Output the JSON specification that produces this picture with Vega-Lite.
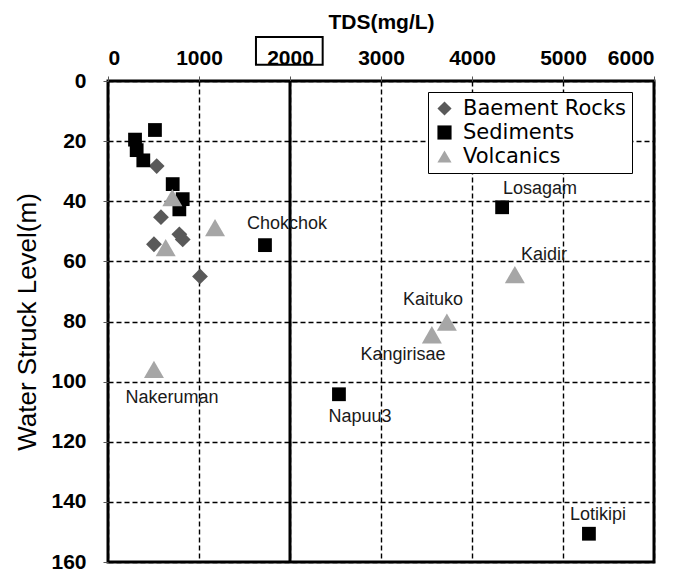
{
  "$schema": "https://vega.github.io/schema/vega-lite/v6.json",
  "width": 546,
  "height": 481,
  "autosize": {"type": "none"},
  "padding": {"left": 108, "top": 81, "right": 26, "bottom": 10},
  "background": "white",
  "config": {
    "view": {"stroke": "black", "strokeWidth": 3},
    "axis": {
      "grid": true,
      "gridColor": "black",
      "gridDash": [5, 3],
      "gridWidth": 1.4,
      "gridOpacity": 1,
      "domain": false,
      "tickColor": "#555",
      "tickSize": 5,
      "labelFont": "Liberation Sans",
      "labelFontWeight": "bold",
      "labelColor": "black",
      "titleFont": "Liberation Sans",
      "titleColor": "black"
    },
    "legend": {
      "title": null,
      "orient": "none",
      "legendX": 320,
      "legendY": 11,
      "strokeColor": "black",
      "fillColor": "white",
      "padding": 6,
      "labelFont": "DejaVu Sans",
      "labelFontSize": 21,
      "labelColor": "black",
      "labelLimit": 400,
      "symbolSize": 200,
      "rowPadding": 2,
      "labelOffset": 8,
      "symbolStrokeWidth": 0
    }
  },
  "datasets": {
    "points": [
      {"group": "Baement Rocks", "tds": 535, "depth": 28.3},
      {"group": "Baement Rocks", "tds": 582, "depth": 45.3},
      {"group": "Baement Rocks", "tds": 784, "depth": 51},
      {"group": "Baement Rocks", "tds": 821, "depth": 52.7},
      {"group": "Baement Rocks", "tds": 505, "depth": 54.3},
      {"group": "Baement Rocks", "tds": 1011, "depth": 65},
      {"group": "Sediments", "tds": 516, "depth": 16.3},
      {"group": "Sediments", "tds": 297, "depth": 19.5},
      {"group": "Sediments", "tds": 315, "depth": 23},
      {"group": "Sediments", "tds": 388, "depth": 26.4},
      {"group": "Sediments", "tds": 711, "depth": 34.3},
      {"group": "Sediments", "tds": 821, "depth": 39.3},
      {"group": "Sediments", "tds": 784, "depth": 42.7},
      {"group": "Sediments", "tds": 1725, "depth": 54.6},
      {"group": "Sediments", "tds": 4331, "depth": 42},
      {"group": "Sediments", "tds": 2538, "depth": 104.2},
      {"group": "Sediments", "tds": 5285, "depth": 150.6},
      {"group": "Volcanics", "tds": 707, "depth": 38.8},
      {"group": "Volcanics", "tds": 1176, "depth": 48.8},
      {"group": "Volcanics", "tds": 634, "depth": 55.4},
      {"group": "Volcanics", "tds": 505, "depth": 95.9},
      {"group": "Volcanics", "tds": 3559, "depth": 84.4},
      {"group": "Volcanics", "tds": 3724, "depth": 80.2},
      {"group": "Volcanics", "tds": 4471, "depth": 64.4}
    ],
    "labels": [
      {"label": "Chokchok", "lx": 1967, "ly": 47.7},
      {"label": "Losagam", "lx": 4747, "ly": 36},
      {"label": "Kaidir", "lx": 4791, "ly": 58},
      {"label": "Kaituko", "lx": 3571, "ly": 72.7},
      {"label": "Kangirisae", "lx": 3242, "ly": 91.3},
      {"label": "Napuu3", "lx": 2769, "ly": 111.7},
      {"label": "Nakeruman", "lx": 703, "ly": 105.3},
      {"label": "Lotikipi", "lx": 5385, "ly": 144.3}
    ],
    "limit": [
      {"name": "TDS limit", "tds": 2000}
    ]
  },
  "layer": [
    {
      "data": {"name": "limit"},
      "mark": {"type": "rule", "color": "black", "strokeWidth": 3},
      "encoding": {"x": {"field": "tds", "type": "quantitative"}}
    },
    {
      "data": {"name": "points"},
      "transform": [{"filter": "datum.group === 'Baement Rocks'"}],
      "mark": {"type": "point", "filled": true, "opacity": 1, "size": 250},
      "encoding": {
        "x": {
          "field": "tds",
          "type": "quantitative",
          "scale": {"domain": [0, 6000], "nice": false},
          "axis": {
            "orient": "top",
            "values": [0, 1000, 2000, 3000, 4000, 5000, 6000],
            "format": "d",
            "title": "TDS(mg/L)",
            "titleFontSize": 21,
            "titleFontWeight": "bold",
            "titlePadding": 15,
            "labelFontSize": 21,
            "labelPadding": 8
          }
        },
        "y": {
          "field": "depth",
          "type": "quantitative",
          "scale": {"domain": [0, 160], "reverse": true, "nice": false},
          "axis": {
            "values": [0, 20, 40, 60, 80, 100, 120, 140, 160],
            "title": "Water Struck Level(m)",
            "titleFontSize": 26,
            "titleFontWeight": "normal",
            "titlePadding": 10,
            "labelFontSize": 21,
            "labelPadding": 17
          }
        },
        "shape": {"field": "group", "type": "nominal", "scale": {"domain": ["Baement Rocks", "Sediments", "Volcanics"], "range": ["diamond", "square", "triangle-up"]}},
        "color": {"field": "group", "type": "nominal", "scale": {"domain": ["Baement Rocks", "Sediments", "Volcanics"], "range": ["#595959", "#000000", "#a6a6a6"]}}
      }
    },
    {
      "data": {"name": "points"},
      "transform": [{"filter": "datum.group === 'Sediments'"}],
      "mark": {"type": "point", "filled": true, "opacity": 1, "size": 190},
      "encoding": {
        "x": {"field": "tds", "type": "quantitative"},
        "y": {"field": "depth", "type": "quantitative"},
        "shape": {"field": "group", "type": "nominal"},
        "color": {"field": "group", "type": "nominal"}
      }
    },
    {
      "data": {"name": "points"},
      "transform": [{"filter": "datum.group === 'Volcanics'"}],
      "mark": {"type": "point", "filled": true, "opacity": 1, "size": 400},
      "encoding": {
        "x": {"field": "tds", "type": "quantitative"},
        "y": {"field": "depth", "type": "quantitative"},
        "shape": {"field": "group", "type": "nominal"},
        "color": {"field": "group", "type": "nominal"}
      }
    },
    {
      "data": {"name": "labels"},
      "mark": {"type": "text", "font": "Liberation Sans", "fontSize": 18, "color": "#1a1a1a", "baseline": "middle"},
      "encoding": {
        "x": {"field": "lx", "type": "quantitative"},
        "y": {"field": "ly", "type": "quantitative"},
        "text": {"field": "label", "type": "nominal"}
      }
    },
    {
      "data": {"name": "limit"},
      "mark": {"type": "rect", "fillOpacity": 0, "stroke": "black", "strokeWidth": 2, "clip": false},
      "encoding": {
        "x": {"datum": 1626, "type": "quantitative"},
        "x2": {"datum": 2359},
        "y": {"datum": -14.6, "type": "quantitative"},
        "y2": {"datum": -5.4}
      }
    }
  ]
}
